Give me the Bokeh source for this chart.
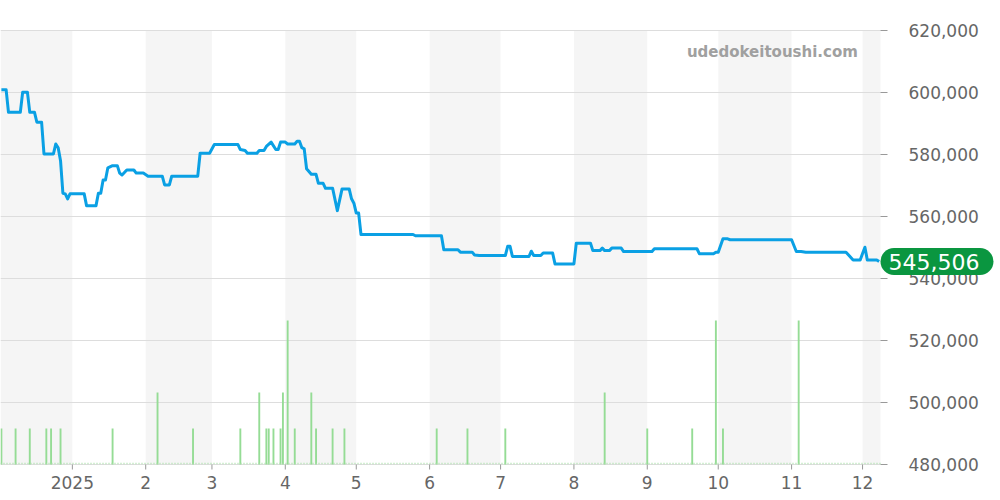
from datetime import datetime
import math
import pandas as pd
from bokeh.plotting import figure
from bokeh.models import (Range1d, FixedTicker, BoxAnnotation, Label, ColumnDataSource)
from bokeh.core.properties import value
from bokeh.embed import file_html
from bokeh.resources import INLINE

# ---------------- data ----------------
price_dates = [
    "2024-12-02", "2024-12-04", "2024-12-05", "2024-12-10", "2024-12-11", "2024-12-13",
    "2024-12-14", "2024-12-16", "2024-12-17", "2024-12-19", "2024-12-20", "2024-12-24",
    "2024-12-25", "2024-12-26", "2024-12-27", "2024-12-28", "2024-12-29", "2024-12-30",
    "2024-12-31", "2025-01-06", "2025-01-07", "2025-01-11", "2025-01-12", "2025-01-13",
    "2025-01-14", "2025-01-15", "2025-01-16", "2025-01-18", "2025-01-20", "2025-01-21",
    "2025-01-22", "2025-01-24", "2025-01-27", "2025-01-28", "2025-01-31", "2025-02-02",
    "2025-02-08", "2025-02-09", "2025-02-11", "2025-02-12", "2025-02-23", "2025-02-24",
    "2025-02-28", "2025-03-02", "2025-03-12", "2025-03-13", "2025-03-15", "2025-03-16",
    "2025-03-20", "2025-03-21", "2025-03-23", "2025-03-24", "2025-03-26", "2025-03-28",
    "2025-03-29", "2025-03-30", "2025-04-01", "2025-04-02", "2025-04-05", "2025-04-06",
    "2025-04-07", "2025-04-08", "2025-04-09", "2025-04-10", "2025-04-12", "2025-04-14",
    "2025-04-15", "2025-04-17", "2025-04-18", "2025-04-21", "2025-04-23", "2025-04-25",
    "2025-04-28", "2025-04-29", "2025-04-30", "2025-05-01", "2025-05-02", "2025-05-03",
    "2025-05-25", "2025-05-26", "2025-06-06", "2025-06-07", "2025-06-13", "2025-06-14",
    "2025-06-19", "2025-06-20", "2025-06-22", "2025-07-03", "2025-07-04", "2025-07-05",
    "2025-07-06", "2025-07-13", "2025-07-14", "2025-07-15", "2025-07-18", "2025-07-19",
    "2025-07-23", "2025-07-24", "2025-08-01", "2025-08-02", "2025-08-08", "2025-08-09",
    "2025-08-12", "2025-08-13", "2025-08-14", "2025-08-16", "2025-08-17", "2025-08-21",
    "2025-08-22", "2025-09-03", "2025-09-04", "2025-09-22", "2025-09-23", "2025-09-29",
    "2025-09-30", "2025-10-01", "2025-10-03", "2025-10-05", "2025-10-06", "2025-11-01",
    "2025-11-03", "2025-11-05", "2025-11-07", "2025-11-24", "2025-11-27", "2025-11-30",
    "2025-12-02", "2025-12-03", "2025-12-07", "2025-12-08",
]
price_values = [
    600900, 600900, 593600, 593600, 600100, 600100,
    593600, 593600, 590400, 590400, 580200, 580200,
    583400, 582200, 578000, 567500, 567300, 565700,
    567300, 567300, 563500, 563500, 567500, 567500,
    571800, 571800, 575700, 576400, 576400, 574000,
    573400, 575000, 575000, 574000, 574000, 573000,
    573000, 570200, 570200, 573000, 573000, 580400,
    580400, 583200, 583200, 581600, 581300, 580400,
    580400, 581300, 581300, 582600, 584000, 581600,
    581600, 584000, 584000, 583400, 583400, 584300,
    584300, 582200, 581800, 575400, 573600, 573600,
    570700, 570700, 569100, 569100, 561900, 568900,
    568900, 565700, 564300, 561100, 561100, 554200,
    554200, 553800, 553800, 549300, 549300, 548500,
    548500, 547600, 547400, 547400, 550400, 550400,
    547100, 547100, 548800, 547400, 547400, 548200,
    548200, 544700, 544700, 551400, 551400, 549000,
    549000, 549800, 549000, 549000, 549800, 549800,
    548700, 548700, 549600, 549600, 548000, 548000,
    548500, 548500, 552800, 552800, 552500, 552500,
    548700, 548700, 548500, 548500, 546000, 546000,
    550100, 546000, 546000, 545506,
]

volume_dates = [
    "2024-12-02", "2024-12-08", "2024-12-14", "2024-12-21", "2024-12-23", "2024-12-27",
    "2025-01-18", "2025-02-06", "2025-02-21", "2025-03-13", "2025-03-21", "2025-03-24",
    "2025-03-25", "2025-03-27", "2025-03-30", "2025-03-31", "2025-04-02", "2025-04-05",
    "2025-04-12", "2025-04-14", "2025-04-21", "2025-04-26", "2025-06-04", "2025-06-17",
    "2025-07-03", "2025-08-14", "2025-09-01", "2025-09-20", "2025-09-30", "2025-10-03",
    "2025-11-04",
]
volume_values = [
    1, 1, 1, 1, 1, 1,
    1, 2, 1, 1, 2, 1,
    1, 1, 1, 2, 4, 1,
    2, 1, 1, 1, 1, 1,
    1, 2, 1, 1, 4, 1,
    4,
]

month_ticks = ["2025-01-01", "2025-02-01", "2025-03-01", "2025-04-01", "2025-05-01",
               "2025-06-01", "2025-07-01", "2025-08-01", "2025-09-01", "2025-10-01",
               "2025-11-01", "2025-12-01"]
month_labels = ["2025", "2", "3", "4", "5", "6", "7", "8", "9", "10", "11", "12"]

shaded_months = [("2024-12-01", "2025-01-01"), ("2025-02-01", "2025-03-01"),
                 ("2025-04-01", "2025-05-01"), ("2025-06-01", "2025-07-01"),
                 ("2025-08-01", "2025-09-01"), ("2025-10-01", "2025-11-01"),
                 ("2025-12-01", "2026-01-01")]

y_ticks = [480000, 500000, 520000, 540000, 560000, 580000, 600000, 620000]
last_value = price_values[-1]
watermark = "udedokeitoushi.com"

# ---------------- layout helpers ----------------
FONT = "DejaVu Sans"
W, H = 1000, 500
PLOT_RIGHT = 880          # pixel where the data area ends; y labels sit to its right
PLOT_TOP, PLOT_BOTTOM = 30, 464
FRAME_BOTTOM = 474        # frame extends a little below data area so y labels aren't cut

x_start = pd.Timestamp(datetime(2024, 12, 1, 15))
x_end = pd.Timestamp(datetime(2025, 12, 8, 14))
x_full_end = x_start + (x_end - x_start) * (W / PLOT_RIGHT)

y_lo, y_hi = min(y_ticks), max(y_ticks)
upp = (y_hi - y_lo) / (PLOT_BOTTOM - PLOT_TOP)          # units per pixel
y_range = Range1d(y_lo - (FRAME_BOTTOM - PLOT_BOTTOM) * upp, y_hi + PLOT_TOP * upp)
v_top = 12.06
vpp = v_top / (PLOT_BOTTOM - PLOT_TOP)
vol_range = Range1d(-(FRAME_BOTTOM - PLOT_BOTTOM) * vpp, v_top + PLOT_TOP * vpp)

p = figure(width=W, height=H, x_axis_type="datetime", y_axis_location=None,
           output_backend="svg", toolbar_location=None,
           x_range=Range1d(x_start, x_full_end), y_range=y_range,
           min_border_left=0, min_border_top=0, min_border_right=0,
           min_border_bottom=H - FRAME_BOTTOM)
p.outline_line_color = None
p.background_fill_color = "white"
p.border_fill_color = "white"
p.grid.grid_line_color = None
p.extra_y_ranges = {"vol": vol_range}

# month bands
for a, b in shaded_months:
    p.add_layout(BoxAnnotation(left=max(pd.Timestamp(a), x_start),
                               right=min(pd.Timestamp(b), x_end),
                               top=y_hi, bottom=y_lo,
                               fill_color="black", fill_alpha=0.04, line_color=None,
                               level="underlay"))

# horizontal grid lines (only across data area)
p.segment(x0=[x_start] * len(y_ticks), x1=[x_end] * len(y_ticks), y0=y_ticks, y1=y_ticks,
          line_color="#dddddd", line_width=1)

# right-hand y ticks and labels
p.ray(x=[x_end] * len(y_ticks), y=y_ticks, length=7, length_units="screen", angle=0,
      line_color="#999999", line_width=1)
p.text(x=[x_end] * len(y_ticks), y=y_ticks, text=[f"{v:,}" for v in y_ticks],
       x_offset=28, text_align="left", text_baseline="middle",
       text_font=value(FONT), text_font_size="17px", text_color="#666666")

# x axis
tick_ts = [pd.Timestamp(t) for t in month_ticks]
tick_ms = [int(t.value // 10**6) for t in tick_ts]
p.ray(x=tick_ts, y=[y_lo] * len(tick_ts), length=5, length_units="screen",
      angle=-math.pi / 2, line_color="#999999", line_width=1)
p.xaxis.ticker = FixedTicker(ticks=tick_ms)
p.xaxis.major_label_overrides = {ms: lab for ms, lab in zip(tick_ms, month_labels)}
p.xaxis.axis_line_color = None
p.xaxis.major_tick_line_color = None
p.xaxis.major_tick_out = 0
p.xaxis.major_tick_in = 0
p.xaxis.minor_tick_line_color = None
p.xaxis.major_label_standoff = 1
p.xaxis.major_label_text_font = FONT
p.xaxis.major_label_text_font_size = "17px"
p.xaxis.major_label_text_color = "#666666"

# volume
vsrc = ColumnDataSource(dict(x=pd.to_datetime(volume_dates), top=volume_values))
p.vbar(x="x", top="top", bottom=0, width=0.8 * 86400000, source=vsrc, y_range_name="vol",
       fill_color="#95dc95", line_color=None)
p.line(x=[x_start, x_end], y=[0.03, 0.03], y_range_name="vol",
       line_color="#a8e0a8", line_width=1.5, line_dash="1 2")

# price
psrc = ColumnDataSource(dict(x=pd.to_datetime(price_dates), y=price_values))
p.line(x="x", y="y", source=psrc, line_color="#0aa0e4", line_width=3, line_join="round")

# watermark
p.add_layout(Label(x=pd.Timestamp("2025-11-29"), y=613000, text=watermark,
                   text_align="right", text_baseline="middle", text_font=FONT,
                   text_font_style="bold", text_font_size="15px", text_color="#a0a0a0"))

# last value label
p.add_layout(Label(x=x_end, y=last_value, text=f"{last_value:,}",
                   text_align="left", text_baseline="middle", text_font=FONT,
                   text_font_size="22px", text_color="white",
                   background_fill_color="#0a9640", background_fill_alpha=1.0,
                   border_radius=15, padding=dict(left=8, right=14, top=6, bottom=5)))

open("out.html", "w").write(file_html(p, INLINE))
